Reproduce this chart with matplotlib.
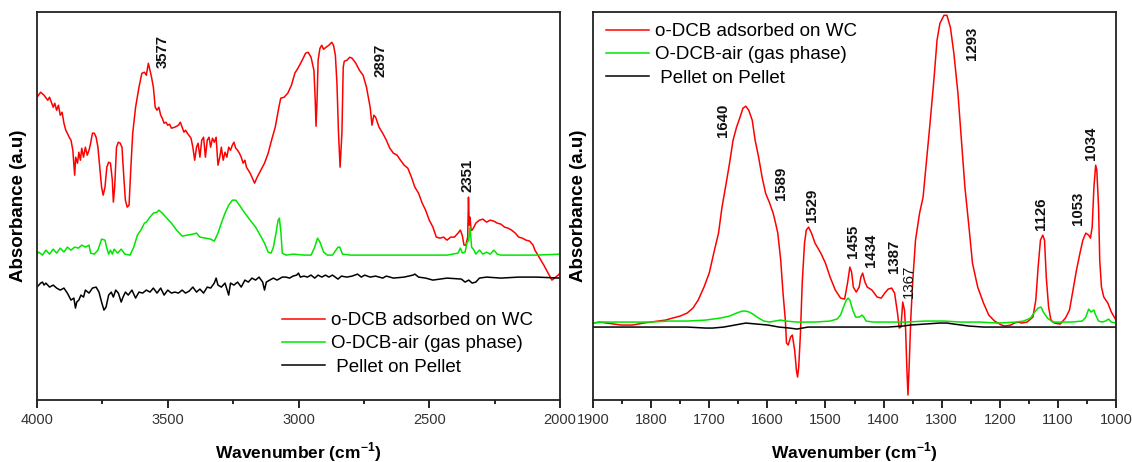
import matplotlib
matplotlib.use("Agg")
import matplotlib.pyplot as plt
from matplotlib.ticker import MultipleLocator

# ---- data: (wavenumber cm-1, absorbance a.u.) ----
left_wc = [(4000, 3.03), (3986, 3.08), (3973, 3.05), (3959, 3.00), (3952, 3.03), (3938, 2.93), (3932, 2.97),
           (3925, 2.90), (3918, 2.95), (3911, 2.85), (3904, 2.88), (3897, 2.77), (3890, 2.70), (3884, 2.67),
           (3877, 2.63), (3870, 2.60), (3863, 2.50), (3856, 2.25), (3852, 2.43), (3845, 2.37), (3840, 2.48),
           (3834, 2.40), (3829, 2.52), (3822, 2.43), (3815, 2.53), (3808, 2.45), (3801, 2.50), (3795, 2.57),
           (3788, 2.67), (3781, 2.67), (3774, 2.63), (3767, 2.53), (3760, 2.33), (3753, 2.13), (3747, 2.05),
           (3740, 2.13), (3733, 2.33), (3726, 2.38), (3719, 2.37), (3712, 2.20), (3708, 1.98), (3703, 2.13),
           (3696, 2.53), (3689, 2.58), (3682, 2.57), (3675, 2.53), (3668, 2.23), (3662, 2.00), (3655, 1.93),
           (3648, 1.95), (3641, 2.33), (3634, 2.67), (3623, 2.93), (3610, 3.13), (3599, 3.27), (3589, 3.28),
           (3582, 3.25), (3574, 3.37), (3568, 3.30), (3562, 3.23), (3555, 3.13), (3548, 2.93), (3541, 2.90),
           (3534, 2.93), (3527, 2.85), (3521, 2.82), (3514, 2.77), (3507, 2.78), (3500, 2.75), (3493, 2.76),
           (3486, 2.72), (3473, 2.73), (3459, 2.75), (3452, 2.78), (3445, 2.73), (3438, 2.68), (3432, 2.70),
           (3425, 2.67), (3411, 2.62), (3404, 2.53), (3397, 2.40), (3390, 2.53), (3384, 2.57), (3377, 2.43),
           (3370, 2.60), (3363, 2.63), (3356, 2.43), (3349, 2.60), (3342, 2.63), (3336, 2.53), (3329, 2.62),
           (3322, 2.58), (3315, 2.63), (3308, 2.35), (3301, 2.43), (3295, 2.53), (3288, 2.40), (3281, 2.48),
           (3274, 2.43), (3267, 2.53), (3260, 2.50), (3253, 2.55), (3247, 2.58), (3240, 2.52), (3233, 2.50),
           (3226, 2.47), (3219, 2.43), (3212, 2.37), (3205, 2.40), (3199, 2.33), (3185, 2.27), (3178, 2.23),
           (3168, 2.17), (3158, 2.23), (3144, 2.30), (3130, 2.37), (3116, 2.47), (3103, 2.60), (3089, 2.73),
           (3075, 2.93), (3068, 3.02), (3055, 3.03), (3041, 3.07), (3027, 3.15), (3014, 3.27), (3000, 3.33),
           (2986, 3.40), (2973, 3.47), (2963, 3.48), (2952, 3.43), (2941, 3.30), (2936, 3.00), (2933, 2.74),
           (2929, 3.00), (2925, 3.40), (2918, 3.52), (2911, 3.55), (2904, 3.51), (2895, 3.53), (2884, 3.55),
           (2873, 3.58), (2866, 3.55), (2859, 3.45), (2853, 3.17), (2847, 2.67), (2841, 2.33), (2834, 2.67),
           (2829, 3.33), (2825, 3.39), (2815, 3.40), (2804, 3.43), (2795, 3.42), (2781, 3.37), (2767, 3.30),
           (2753, 3.25), (2740, 3.13), (2733, 3.03), (2726, 2.93), (2719, 2.75), (2712, 2.85), (2705, 2.83),
           (2692, 2.73), (2678, 2.67), (2664, 2.60), (2651, 2.52), (2637, 2.47), (2623, 2.45), (2610, 2.40),
           (2596, 2.35), (2582, 2.32), (2568, 2.23), (2555, 2.13), (2541, 2.07), (2527, 1.97), (2514, 1.90),
           (2500, 1.80), (2486, 1.73), (2473, 1.63), (2459, 1.62), (2445, 1.63), (2432, 1.60), (2418, 1.63),
           (2404, 1.63), (2390, 1.67), (2381, 1.70), (2374, 1.65), (2367, 1.55), (2360, 1.55), (2353, 1.63),
           (2350, 2.03), (2347, 1.75), (2344, 1.83), (2340, 1.70), (2336, 1.70), (2329, 1.73), (2322, 1.77),
           (2308, 1.80), (2295, 1.81), (2281, 1.78), (2267, 1.80), (2253, 1.79), (2240, 1.77), (2226, 1.76),
           (2212, 1.73), (2199, 1.72), (2185, 1.70), (2171, 1.67), (2158, 1.63), (2144, 1.62), (2130, 1.60),
           (2116, 1.59), (2103, 1.55), (2096, 1.50), (2062, 1.35), (2031, 1.20), (2021, 1.22), (2007, 1.25),
           (2000, 1.27)]

left_gas = [(4000, 1.46), (3993, 1.48), (3979, 1.45), (3966, 1.50), (3952, 1.46), (3938, 1.51), (3925, 1.47),
            (3911, 1.52), (3897, 1.48), (3884, 1.53), (3870, 1.50), (3856, 1.53), (3842, 1.52), (3829, 1.55),
            (3815, 1.53), (3801, 1.55), (3795, 1.47), (3781, 1.46), (3767, 1.50), (3753, 1.61), (3740, 1.60),
            (3733, 1.52), (3726, 1.46), (3719, 1.50), (3712, 1.46), (3705, 1.51), (3692, 1.47), (3678, 1.51),
            (3664, 1.46), (3644, 1.45), (3630, 1.53), (3616, 1.65), (3603, 1.70), (3589, 1.77), (3582, 1.78),
            (3568, 1.83), (3555, 1.87), (3541, 1.88), (3534, 1.90), (3521, 1.87), (3507, 1.83), (3486, 1.77),
            (3466, 1.70), (3445, 1.64), (3425, 1.65), (3404, 1.66), (3390, 1.67), (3377, 1.63), (3356, 1.62),
            (3336, 1.61), (3322, 1.59), (3308, 1.67), (3295, 1.77), (3281, 1.87), (3267, 1.95), (3253, 2.00),
            (3240, 2.00), (3226, 1.95), (3205, 1.87), (3185, 1.80), (3164, 1.73), (3151, 1.67), (3130, 1.57),
            (3116, 1.48), (3105, 1.47), (3096, 1.53), (3086, 1.67), (3078, 1.80), (3073, 1.82), (3067, 1.67),
            (3062, 1.47), (3048, 1.45), (3021, 1.46), (2979, 1.45), (2952, 1.45), (2938, 1.53), (2927, 1.62),
            (2918, 1.58), (2904, 1.48), (2890, 1.45), (2870, 1.45), (2849, 1.53), (2842, 1.53), (2832, 1.46),
            (2801, 1.45), (2705, 1.45), (2637, 1.45), (2568, 1.45), (2500, 1.45), (2432, 1.45), (2390, 1.47),
            (2381, 1.52), (2373, 1.47), (2363, 1.48), (2356, 1.57), (2349, 1.60), (2344, 1.73), (2338, 1.53),
            (2329, 1.50), (2322, 1.46), (2308, 1.50), (2295, 1.46), (2281, 1.48), (2267, 1.46), (2253, 1.50),
            (2240, 1.46), (2226, 1.45), (2158, 1.45), (2089, 1.45), (2000, 1.46)]

left_pellet = [(4000, 1.13), (3986, 1.17), (3979, 1.18), (3973, 1.15), (3966, 1.17), (3952, 1.13), (3938, 1.15),
               (3925, 1.12), (3911, 1.10), (3897, 1.12), (3884, 1.07), (3870, 1.00), (3859, 1.02), (3853, 0.92),
               (3848, 0.98), (3840, 1.00), (3832, 1.05), (3822, 1.03), (3815, 1.10), (3801, 1.07), (3788, 1.12),
               (3774, 1.13), (3763, 1.08), (3753, 0.98), (3744, 0.90), (3736, 0.93), (3726, 1.05), (3716, 1.08),
               (3708, 1.03), (3699, 1.10), (3689, 1.07), (3678, 0.98), (3671, 1.03), (3662, 1.08), (3651, 1.05),
               (3637, 1.10), (3623, 1.02), (3610, 1.08), (3596, 1.07), (3582, 1.10), (3568, 1.08), (3555, 1.12),
               (3541, 1.07), (3527, 1.12), (3514, 1.05), (3500, 1.10), (3486, 1.07), (3473, 1.08), (3459, 1.07),
               (3445, 1.10), (3432, 1.07), (3418, 1.09), (3404, 1.13), (3390, 1.08), (3377, 1.11), (3363, 1.07),
               (3349, 1.13), (3336, 1.12), (3322, 1.17), (3315, 1.22), (3308, 1.15), (3295, 1.13), (3281, 1.17),
               (3267, 1.05), (3260, 1.17), (3247, 1.15), (3233, 1.18), (3219, 1.13), (3205, 1.20), (3192, 1.18),
               (3178, 1.22), (3164, 1.20), (3151, 1.23), (3137, 1.18), (3130, 1.10), (3123, 1.18), (3110, 1.20),
               (3096, 1.22), (3082, 1.20), (3062, 1.23), (3048, 1.23), (3034, 1.22), (3021, 1.24), (3007, 1.25),
               (3000, 1.27), (2993, 1.23), (2979, 1.24), (2966, 1.23), (2952, 1.25), (2938, 1.22), (2925, 1.25),
               (2911, 1.23), (2897, 1.25), (2884, 1.23), (2870, 1.25), (2849, 1.21), (2836, 1.24), (2815, 1.23),
               (2795, 1.24), (2774, 1.26), (2760, 1.23), (2747, 1.25), (2726, 1.23), (2705, 1.24), (2678, 1.22),
               (2664, 1.24), (2637, 1.22), (2596, 1.23), (2562, 1.25), (2555, 1.26), (2541, 1.23), (2514, 1.22),
               (2486, 1.20), (2432, 1.22), (2377, 1.21), (2363, 1.18), (2349, 1.20), (2336, 1.17), (2322, 1.18),
               (2308, 1.22), (2281, 1.23), (2226, 1.22), (2158, 1.23), (2089, 1.23), (2000, 1.22)]

right_wc = [(1900, 0.77), (1889, 0.78), (1876, 0.77), (1864, 0.76), (1851, 0.75), (1832, 0.75), (1813, 0.77),
            (1801, 0.78), (1788, 0.79), (1775, 0.80), (1763, 0.82), (1750, 0.84), (1738, 0.87), (1728, 0.92),
            (1719, 1.00), (1709, 1.13), (1700, 1.27), (1691, 1.50), (1684, 1.67), (1678, 1.93), (1672, 2.13),
            (1665, 2.37), (1659, 2.60), (1653, 2.73), (1647, 2.83), (1642, 2.92), (1637, 2.94), (1632, 2.90),
            (1626, 2.80), (1621, 2.60), (1615, 2.43), (1609, 2.23), (1603, 2.07), (1596, 1.97), (1590, 1.87),
            (1587, 1.80), (1582, 1.67), (1577, 1.40), (1573, 1.07), (1569, 0.80), (1567, 0.57), (1564, 0.55),
            (1560, 0.63), (1557, 0.65), (1553, 0.50), (1550, 0.30), (1548, 0.23), (1546, 0.33), (1543, 0.67),
            (1540, 1.17), (1536, 1.57), (1533, 1.70), (1529, 1.73), (1524, 1.67), (1518, 1.57), (1508, 1.47),
            (1500, 1.37), (1492, 1.23), (1483, 1.10), (1474, 1.02), (1467, 1.01), (1462, 1.17), (1458, 1.33),
            (1455, 1.28), (1452, 1.13), (1447, 1.08), (1442, 1.13), (1439, 1.23), (1436, 1.27), (1432, 1.18),
            (1428, 1.13), (1420, 1.10), (1411, 1.03), (1404, 1.02), (1398, 1.07), (1392, 1.11), (1386, 1.12),
            (1381, 1.07), (1376, 0.87), (1373, 0.72), (1370, 0.73), (1367, 0.98), (1364, 0.90), (1362, 0.70),
            (1360, 0.33), (1358, 0.05), (1356, 0.33), (1353, 0.83), (1350, 1.17), (1345, 1.60), (1338, 1.87),
            (1332, 2.03), (1326, 2.40), (1320, 2.77), (1313, 3.23), (1308, 3.60), (1303, 3.77), (1296, 3.85),
            (1291, 3.85), (1285, 3.73), (1279, 3.47), (1272, 3.07), (1266, 2.60), (1260, 2.13), (1253, 1.73),
            (1247, 1.37), (1238, 1.13), (1228, 0.97), (1219, 0.85), (1209, 0.79), (1203, 0.77), (1197, 0.75),
            (1191, 0.74), (1181, 0.75), (1175, 0.77), (1169, 0.78), (1162, 0.77), (1153, 0.78), (1143, 0.83),
            (1138, 1.00), (1134, 1.33), (1130, 1.60), (1126, 1.65), (1123, 1.60), (1120, 1.23), (1116, 0.93),
            (1112, 0.80), (1106, 0.77), (1096, 0.76), (1087, 0.82), (1080, 0.90), (1074, 1.10), (1068, 1.30),
            (1062, 1.47), (1057, 1.60), (1052, 1.67), (1047, 1.65), (1044, 1.62), (1041, 1.73), (1038, 2.13),
            (1035, 2.35), (1033, 2.30), (1030, 1.93), (1028, 1.40), (1025, 1.13), (1021, 1.03), (1014, 0.97),
            (1008, 0.88), (1000, 0.80)]

right_gas = [(1900, 0.77), (1882, 0.78), (1864, 0.78), (1832, 0.78), (1801, 0.78), (1769, 0.79), (1738, 0.79),
             (1706, 0.80), (1681, 0.82), (1665, 0.84), (1653, 0.87), (1643, 0.89), (1637, 0.89), (1631, 0.88),
             (1625, 0.86), (1615, 0.82), (1606, 0.79), (1596, 0.78), (1587, 0.79), (1577, 0.80), (1568, 0.79),
             (1549, 0.78), (1518, 0.78), (1492, 0.79), (1480, 0.81), (1474, 0.85), (1469, 0.93), (1464, 1.00),
             (1461, 1.02), (1458, 1.00), (1453, 0.90), (1448, 0.83), (1442, 0.83), (1437, 0.85), (1434, 0.83),
             (1430, 0.79), (1417, 0.78), (1392, 0.78), (1360, 0.78), (1329, 0.79), (1297, 0.79), (1266, 0.78),
             (1235, 0.78), (1203, 0.77), (1172, 0.78), (1159, 0.79), (1147, 0.82), (1140, 0.88), (1134, 0.92),
             (1129, 0.93), (1125, 0.88), (1118, 0.82), (1109, 0.78), (1077, 0.78), (1058, 0.79), (1052, 0.83),
             (1047, 0.91), (1043, 0.88), (1038, 0.90), (1035, 0.85), (1030, 0.79), (1024, 0.78), (1018, 0.79),
             (1013, 0.81), (1008, 0.78), (1000, 0.77)]

right_pellet = [(1900, 0.73), (1864, 0.73), (1832, 0.73), (1801, 0.73), (1769, 0.73), (1738, 0.73), (1706, 0.72),
                (1694, 0.72), (1675, 0.73), (1656, 0.75), (1637, 0.77), (1618, 0.76), (1599, 0.75), (1580, 0.73),
                (1562, 0.72), (1549, 0.71), (1530, 0.73), (1505, 0.73), (1480, 0.73), (1455, 0.73), (1423, 0.73),
                (1392, 0.73), (1367, 0.74), (1354, 0.75), (1329, 0.76), (1304, 0.77), (1291, 0.77), (1279, 0.76),
                (1253, 0.74), (1228, 0.73), (1203, 0.73), (1172, 0.73), (1140, 0.73), (1109, 0.73), (1077, 0.73),
                (1046, 0.73), (1000, 0.73)]

series_labels = ["o-DCB adsorbed on WC", "O-DCB-air (gas phase)", " Pellet on Pellet"]
series_colors = ["#ff0000", "#00e600", "#000000"]

# peak labels: text, wavenumber, bottom of text (a.u.), bold?
left_peaks = [("3577", 3521, 3.32, True), ("2897", 2685, 3.23, True), ("2351", 2352, 2.08, True)]
right_peaks = [("1640", 1677, 2.63, True), ("1589", 1577, 2.00, True), ("1529", 1523, 1.78, True),
               ("1455", 1453, 1.42, True), ("1434", 1421, 1.33, True), ("1387", 1382, 1.27, True),
               ("1367", 1357, 1.02, False), ("1293", 1247, 3.40, True), ("1126", 1129, 1.70, True),
               ("1053", 1066, 1.75, True), ("1034", 1043, 2.40, True)]

plt.rcParams['font.family'] = ['Liberation Sans', 'DejaVu Sans']
plt.rcParams['mathtext.fontset'] = 'custom'
plt.rcParams['mathtext.rm'] = 'Liberation Sans:bold'
plt.rcParams['mathtext.bf'] = 'Liberation Sans:bold'

W, H = 1132, 462
fig = plt.figure(figsize=(W / 100, H / 100), dpi=100)
ax1 = fig.add_axes([37 / W, 62 / H, 523 / W, 388 / H])
ax2 = fig.add_axes([593 / W, 62 / H, 523 / W, 388 / H])


def setup(ax, lo, hi, major, minor, ylabel_x):
    ax.set_xlim(lo, hi)
    ax.set_ylim(0, 3.883)
    ax.set_yticks([])
    ax.xaxis.set_major_locator(MultipleLocator(major))
    ax.xaxis.set_minor_locator(MultipleLocator(minor))
    ax.tick_params(axis='x', which='major', direction='out', length=6, width=1.2,
                   labelsize=10.5, labelcolor='#333333', pad=3)
    ax.tick_params(axis='x', which='minor', direction='out', length=3, width=1.2)
    for sp in ax.spines.values():
        sp.set_linewidth(1.3)
        sp.set_color('#222222')
    ax.set_xlabel('Wavenumber (cm$^{\\mathbf{-1}}$)', fontsize=12.5, fontweight='bold', labelpad=10)
    ax.set_ylabel('Absorbance (a.u)', fontsize=13.5, fontweight='bold')
    ax.yaxis.set_label_coords(ylabel_x, 0.5)


def draw(ax, curves, peaks):
    lines = []
    for data, c in zip(curves, series_colors):
        xs, ys = zip(*data)
        ln, = ax.plot(xs, ys, color=c, lw=1.1)
        lines.append(ln)
    for txt, x, y, bold in peaks:
        ax.text(x, y, txt, rotation=90, ha='center', va='bottom', fontsize=10.8,
                fontweight='bold' if bold else 'normal', color='#111111')
    return lines


setup(ax1, 4000, 2000, 500, 250, -0.019)
setup(ax2, 1900, 1000, 100, 50, -0.011)
l1 = draw(ax1, [left_wc, left_gas, left_pellet], left_peaks)
l2 = draw(ax2, [right_wc, right_gas, right_pellet], right_peaks)

leg_kw = dict(loc='upper left', bbox_transform=fig.transFigure, frameon=False, fontsize=13.5,
              handlelength=2.3, handletextpad=0.3, labelspacing=0.33, borderpad=0, borderaxespad=0)
ax1.legend(l1, series_labels, bbox_to_anchor=(282 / W, 1 - 312 / H), **leg_kw)
ax2.legend(l2, series_labels, bbox_to_anchor=(606 / W, 1 - 23 / H), **leg_kw)

fig.savefig('out.png', dpi=100)
